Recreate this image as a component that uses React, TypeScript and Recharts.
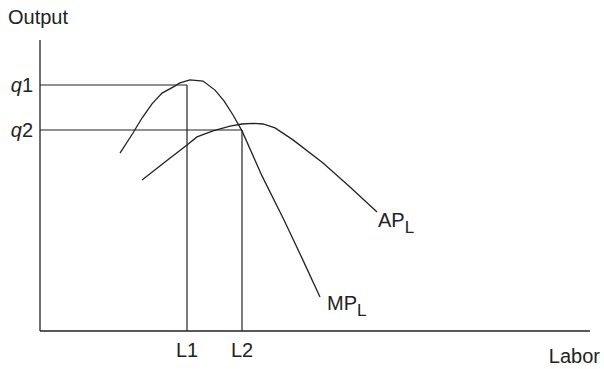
import React from "react";
import {
  ComposedChart,
  Line,
  XAxis,
  YAxis,
  ReferenceLine,
} from "recharts";

// Labor levels (x) and outputs (y)
const L1 = 29.4;
const L2 = 40.4;
const Q1 = 82;
const Q2 = 67;

const xTicks = [L1, L2];
const xTickLabels = ["L1", "L2"];
const yTicks = [Q2, Q1];
const yTickLabels = ["2", "1"]; // shown after an italic "q"

// Marginal product of labor
const mpLabor = [16, 18.6, 20.4, 22.4, 24.4, 26.6, 28, 30, 32.6, 35, 36.8, 38.6, 40.4, 44.4, 48.8, 52.4, 56];
const mpOutput = [59.3, 66, 71, 75.7, 79.3, 81.3, 82.7, 83.7, 83.3, 80.3, 76.7, 72, 66.7, 51.7, 37, 24.3, 11.3];

// Average product of labor
const apLabor = [20.4, 25, 29.4, 31.4, 34.6, 38, 40.4, 42.6, 44.6, 47, 50.6, 56.6, 62, 67.4];
const apOutput = [50.3, 56.3, 62, 64.7, 66.7, 68.3, 69, 69.2, 69, 67.7, 63.7, 56, 48, 39.7];

const mpData = mpLabor.map((x, i) => ({ x, y: mpOutput[i] }));
const apData = apLabor.map((x, i) => ({ x, y: apOutput[i] }));

const FONT = "'Liberation Sans', Arial, Helvetica, sans-serif";
const INK = "#222";
const FS = 20;

const XTick = (props: any) => {
  const { x, y, index } = props;
  return (
    <text x={x} y={y + 18} textAnchor="middle" fontFamily={FONT} fontSize={FS} fill={INK}>
      {xTickLabels[index]}
    </text>
  );
};

const YTick = (props: any) => {
  const { x, y, index } = props;
  return (
    <text x={x + 1} y={y + 7} textAnchor="end" fontFamily={FONT} fontSize={FS} fill={INK}>
      <tspan fontStyle="italic">q</tspan>
      <tspan>{yTickLabels[index]}</tspan>
    </text>
  );
};

const makeEndLabel = (name: string, count: number, dx: number, dy: number) => (props: any) => {
  const { x, y, index } = props;
  if (index !== count - 1) return null;
  return (
    <text x={x + dx} y={y + dy} fontFamily={FONT} fontSize={FS} fill={INK}>
      <tspan>{name}</tspan>
      <tspan fontSize={17} dy={6}>L</tspan>
    </text>
  );
};

const OutputLabel = (props: any) => {
  const vb = props.viewBox || {};
  return (
    <text x={(vb.x ?? 0) + 8} y={(vb.y ?? 40) - 16} fontFamily={FONT} fontSize={FS} fill={INK}>
      Output
    </text>
  );
};

const LaborLabel = (props: any) => {
  const vb = props.viewBox || {};
  return (
    <text
      x={(vb.x ?? 0) + (vb.width ?? 0) + 10}
      y={(vb.y ?? 0) + 32}
      textAnchor="end"
      fontFamily={FONT}
      fontSize={FS}
      fill={INK}
    >
      Labor
    </text>
  );
};

export default function App() {
  return (
    <div style={{ position: "absolute", left: 0, top: 0, background: "#fff" }}>
      <ComposedChart
        width={604}
        height={369}
        margin={{ top: 40, right: 14, bottom: 0, left: 0 }}
      >
        <XAxis
          type="number"
          dataKey="x"
          domain={[0, 110]}
          ticks={xTicks}
          tick={<XTick />}
          tickLine={false}
          axisLine={{ stroke: INK, strokeWidth: 1.3 }}
          height={38}
          allowDataOverflow
          label={<LaborLabel />}
        />
        <YAxis
          type="number"
          dataKey="y"
          domain={[0, 97]}
          ticks={yTicks}
          tick={<YTick />}
          tickLine={false}
          axisLine={{ stroke: INK, strokeWidth: 1.3 }}
          width={40}
          allowDataOverflow
          label={<OutputLabel />}
        />
        <ReferenceLine segment={[{ x: 0, y: Q1 }, { x: L1, y: Q1 }]} stroke={INK} strokeWidth={1.2} />
        <ReferenceLine segment={[{ x: L1, y: 0 }, { x: L1, y: Q1 }]} stroke={INK} strokeWidth={1.2} />
        <ReferenceLine segment={[{ x: 0, y: Q2 }, { x: L2, y: Q2 }]} stroke={INK} strokeWidth={1.2} />
        <ReferenceLine segment={[{ x: L2, y: 0 }, { x: L2, y: Q2 }]} stroke={INK} strokeWidth={1.2} />
        <Line
          data={mpData}
          dataKey="y"
          type="linear"
          stroke={INK}
          strokeWidth={1.3}
          dot={false}
          activeDot={false}
          isAnimationActive={false}
          label={makeEndLabel("MP", mpData.length, 7, 13)}
        />
        <Line
          data={apData}
          dataKey="y"
          type="linear"
          stroke={INK}
          strokeWidth={1.3}
          dot={false}
          activeDot={false}
          isAnimationActive={false}
          label={makeEndLabel("AP", apData.length, 1, 15)}
        />
      </ComposedChart>
    </div>
  );
}
